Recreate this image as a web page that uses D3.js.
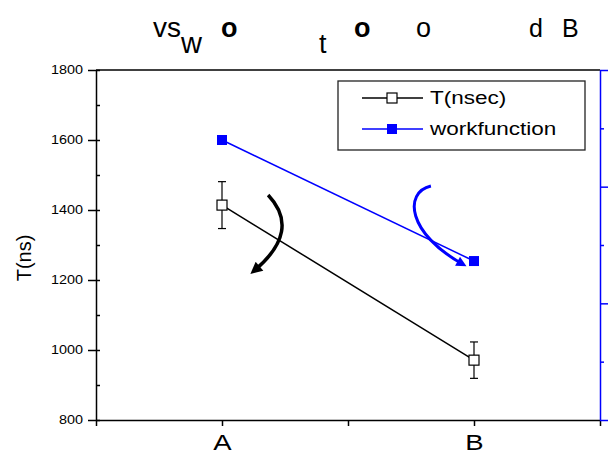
<!DOCTYPE html>
<html>
<head>
<meta charset="utf-8">
<script src="https://cdn.jsdelivr.net/npm/d3@7"></script>
<style>
  body { margin: 0; background: #fff; }
  svg { display: block; font-family: Arial, "Liberation Sans", sans-serif; }
</style>
</head>
<body>
<svg id="chart" width="613" height="455"></svg>
<script>
// data
var categories = ["A", "B"];
var catPos = [1, 2];
var tValues = [1414, 971];          // T(nsec)
var tErrors = [67, 52];
var wfValues = [4.96, 4.545];       // workfunction (right axis, no labels)
var leftTicks = [800, 1000, 1200, 1400, 1600, 1800];
var leftMinor = [900, 1100, 1300, 1500, 1700];
var rightTicks = [4.0, 4.4, 4.8, 5.2];
var rightMinor = [4.2, 4.6, 5.0];
var bottomTicks = [0.5, 1, 1.5, 2, 2.5];
var legendLabels = ["T(nsec)", "workfunction"];
// garbled title pieces
var titleParts = [
  {t: "vs", size: 28, w: "normal"},
  {t: "w", size: 29, w: "normal"},
  {t: "o", size: 27, w: "bold"},
  {t: "t", size: 27, w: "normal"},
  {t: "o", size: 27, w: "bold"},
  {t: "o", size: 27, w: "normal"},
  {t: "d", size: 25, w: "normal"},
  {t: "B", size: 25, w: "normal"}
];
var titleXY = [[153, 37], [181, 53], [221, 37], [319, 53], [354, 37], [416, 37], [529, 37], [562, 37]];

// annotation arrows (in data coordinates)
var blackArrow = {start: [1.183, 1443], ctrl: [1.317, 1341], end: [1.127, 1226]};
var blueArrow = {start: [1.829, 4.802], c1: [1.72, 4.78], c2: [1.735, 4.64], end: [1.956, 4.534]};

var svg = d3.select("#chart");
var plotLeft = 96, plotRight = 600, plotTop = 70, plotBottom = 420;

var x = d3.scaleLinear().domain([0.5, 2.5]).range([plotLeft, plotRight]);
var y = d3.scaleLinear().domain([800, 1800]).range([plotBottom, plotTop]);
var yR = d3.scaleLinear().domain([4.0, 5.2]).range([plotBottom, plotTop]);

var defs = svg.append("defs");
function marker(id, color) {
  defs.append("marker")
    .attr("id", id)
    .attr("viewBox", "0 0 10 10")
    .attr("refX", 6).attr("refY", 5)
    .attr("markerWidth", 4).attr("markerHeight", 3.4)
    .attr("markerUnits", "strokeWidth")
    .attr("orient", "auto")
    .append("path")
    .attr("d", "M0,0 L10,5 L0,10 z")
    .attr("fill", color);
}
marker("headBlack", "#000");
marker("headBlue", "#0000ff");

// title
svg.selectAll(".titlePart")
  .data(titleParts)
  .enter().append("text")
  .attr("class", "titlePart")
  .attr("x", function(d, i) { return titleXY[i][0]; })
  .attr("y", function(d, i) { return titleXY[i][1]; })
  .style("font-size", function(d) { return d.size + "px"; })
  .style("font-weight", function(d) { return d.w; })
  .text(function(d) { return d.t; });

// top border
svg.append("line")
  .attr("x1", plotLeft).attr("x2", plotRight).attr("y1", plotTop).attr("y2", plotTop)
  .attr("stroke", "#000").attr("stroke-width", 1.5);

// left axis
var sx = 1.2; // tick labels look horizontally stretched
var yAxis = svg.append("g").attr("transform", "translate(" + plotLeft + ",0)")
  .call(d3.axisLeft(y).tickValues(leftTicks).tickSize(8).tickSizeOuter(0)
    .tickFormat(d3.format("d")));
yAxis.selectAll(".tick line").attr("x1", 4);
yAxis.selectAll("text")
  .style("font-size", "12px")
  .attr("x", -13 / sx)
  .attr("transform", "scale(" + sx + ",1)");
var yMinor = svg.append("g").attr("transform", "translate(" + plotLeft + ",0)")
  .call(d3.axisLeft(y).tickValues(leftMinor).tickSize(-4).tickFormat(""));
yMinor.select(".domain").remove();

// bottom axis
var xAxis = svg.append("g").attr("transform", "translate(0," + plotBottom + ")")
  .call(d3.axisBottom(x).tickValues(bottomTicks).tickSize(6).tickSizeOuter(0)
    .tickFormat(function(d) { var i = catPos.indexOf(d); return i >= 0 ? categories[i] : ""; }));
xAxis.selectAll("text")
  .style("font-size", "22px")
  .attr("y", 30).attr("dy", 0)
  .attr("transform", "scale(1.25,1)");

// right axis (blue, unlabeled)
var rAxis = svg.append("g").attr("transform", "translate(" + plotRight + ",0)")
  .call(d3.axisRight(yR).tickValues(rightTicks).tickSize(8).tickSizeOuter(0).tickFormat(""));
var rMinor = svg.append("g").attr("transform", "translate(" + plotRight + ",0)")
  .call(d3.axisRight(yR).tickValues(rightMinor).tickSize(4).tickFormat(""));
rMinor.select(".domain").remove();

svg.selectAll(".domain, .tick line").attr("stroke-width", 1.5);
rAxis.selectAll(".domain, .tick line").attr("stroke", "#0000ff");
rMinor.selectAll(".tick line").attr("stroke", "#0000ff");

// y label
svg.append("text")
  .attr("transform", "translate(31,258) rotate(-90)")
  .attr("text-anchor", "middle")
  .style("font-size", "20px")
  .text("T(ns)");

// series lines
var lineT = d3.line().x(function(d, i) { return x(catPos[i]); }).y(function(d) { return y(d); });
var lineW = d3.line().x(function(d, i) { return x(catPos[i]); }).y(function(d) { return yR(d); });

svg.append("path").datum(wfValues).attr("d", lineW)
  .attr("fill", "none").attr("stroke", "#0000ff").attr("stroke-width", 1.5);
svg.append("path").datum(tValues).attr("d", lineT)
  .attr("fill", "none").attr("stroke", "#000").attr("stroke-width", 1.5);

// error bars
var eb = svg.selectAll(".err").data(tValues).enter().append("g").attr("class", "err");
eb.append("line")
  .attr("x1", function(d, i) { return x(catPos[i]); })
  .attr("x2", function(d, i) { return x(catPos[i]); })
  .attr("y1", function(d, i) { return y(d + tErrors[i]); })
  .attr("y2", function(d, i) { return y(d - tErrors[i]); });
eb.append("line")
  .attr("x1", function(d, i) { return x(catPos[i]) - 4; })
  .attr("x2", function(d, i) { return x(catPos[i]) + 4; })
  .attr("y1", function(d, i) { return y(d + tErrors[i]); })
  .attr("y2", function(d, i) { return y(d + tErrors[i]); });
eb.append("line")
  .attr("x1", function(d, i) { return x(catPos[i]) - 4; })
  .attr("x2", function(d, i) { return x(catPos[i]) + 4; })
  .attr("y1", function(d, i) { return y(d - tErrors[i]); })
  .attr("y2", function(d, i) { return y(d - tErrors[i]); });
eb.selectAll("line").attr("stroke", "#000").attr("stroke-width", 1.2);

// markers
svg.selectAll(".ptT").data(tValues).enter().append("rect")
  .attr("class", "ptT")
  .attr("x", function(d, i) { return x(catPos[i]) - 5; })
  .attr("y", function(d) { return y(d) - 5; })
  .attr("width", 10).attr("height", 10)
  .attr("fill", "#fff").attr("stroke", "#000").attr("stroke-width", 1.2);
svg.selectAll(".ptW").data(wfValues).enter().append("rect")
  .attr("class", "ptW")
  .attr("x", function(d, i) { return x(catPos[i]) - 5; })
  .attr("y", function(d) { return yR(d) - 5; })
  .attr("width", 10).attr("height", 10)
  .attr("fill", "#0000ff");

// curved arrows
svg.append("path")
  .attr("d", "M" + x(blackArrow.start[0]) + "," + y(blackArrow.start[1]) +
    " Q" + x(blackArrow.ctrl[0]) + "," + y(blackArrow.ctrl[1]) +
    " " + x(blackArrow.end[0]) + "," + y(blackArrow.end[1]))
  .attr("fill", "none").attr("stroke", "#000").attr("stroke-width", 3.5)
  .attr("marker-end", "url(#headBlack)");
svg.append("path")
  .attr("d", "M" + x(blueArrow.start[0]) + "," + yR(blueArrow.start[1]) +
    " C" + x(blueArrow.c1[0]) + "," + yR(blueArrow.c1[1]) +
    " " + x(blueArrow.c2[0]) + "," + yR(blueArrow.c2[1]) +
    " " + x(blueArrow.end[0]) + "," + yR(blueArrow.end[1]))
  .attr("fill", "none").attr("stroke", "#0000ff").attr("stroke-width", 3)
  .attr("marker-end", "url(#headBlue)");

// legend
var legend = svg.append("g");
legend.append("rect")
  .attr("x", 338).attr("y", 81).attr("width", 247).attr("height", 69)
  .attr("fill", "#fff").attr("stroke", "#222").attr("stroke-width", 1.3);
var rows = legend.selectAll(".row").data(legendLabels).enter().append("g")
  .attr("class", "row")
  .attr("transform", function(d, i) { return "translate(0," + (98 + i * 31) + ")"; });
rows.append("line")
  .attr("x1", 362).attr("x2", 423).attr("y1", 0).attr("y2", 0)
  .attr("stroke", function(d, i) { return i === 0 ? "#000" : "#0000ff"; })
  .attr("stroke-width", 1.5);
rows.append("rect")
  .attr("x", 387).attr("y", -5).attr("width", 10).attr("height", 10)
  .attr("fill", function(d, i) { return i === 0 ? "#fff" : "#0000ff"; })
  .attr("stroke", function(d, i) { return i === 0 ? "#000" : "none"; })
  .attr("stroke-width", 1.2);
rows.append("text")
  .attr("transform", "translate(430,6) scale(1.25,1)")
  .style("font-size", "18px")
  .text(function(d) { return d; });
</script>
</body>
</html>
